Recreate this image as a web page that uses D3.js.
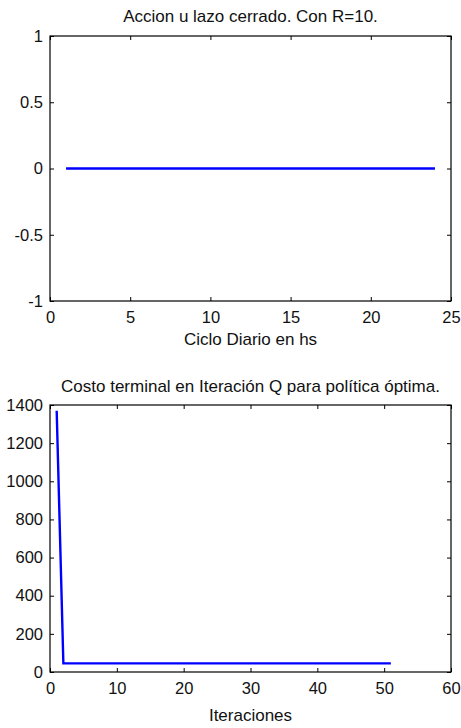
<!DOCTYPE html>
<html>
<head>
<meta charset="utf-8">
<script src="https://cdn.jsdelivr.net/npm/d3@7"></script>
<style>
  body { margin: 0; background: #fff; }
  text { font-family: "Liberation Sans", Arial, sans-serif; fill: #111; }
</style>
</head>
<body>
<script>
// chart 1: accion u, 24 hours
var horas = [1,2,3,4,5,6,7,8,9,10,11,12,13,14,15,16,17,18,19,20,21,22,23,24];
var accion = [0,0,0,0,0,0,0,0,0,0,0,0,0,0,0,0,0,0,0,0,0,0,0,0];
var xTicks1 = [0,5,10,15,20,25];
var yTicks1 = [-1,-0.5,0,0.5,1];

// chart 2: costo terminal per iteration
var iter = [1,2,3,4,5,6,7,8,9,10,11,12,13,14,15,16,17,18,19,20,21,22,23,24,25,26,27,28,29,30,31,32,33,34,35,36,37,38,39,40,41,42,43,44,45,46,47,48,49,50,51];
var costo = [1370,45,45,45,45,45,45,45,45,45,45,45,45,45,45,45,45,45,45,45,45,45,45,45,45,45,45,45,45,45,45,45,45,45,45,45,45,45,45,45,45,45,45,45,45,45,45,45,45,45,45];
var xTicks2 = [0,10,20,30,40,50,60];
var yTicks2 = [0,200,400,600,800,1000,1200,1400];

var svg = d3.select('body').append('svg').attr('width', 461).attr('height', 728);

function panel(opt) {
    var x = d3.scaleLinear().domain(opt.xd).range([opt.left, opt.right]);
    var y = d3.scaleLinear().domain(opt.yd).range([opt.bottom, opt.top]);
    var g = svg.append('g');
    var fmt = function(d){ return String(d); };

    // box
    g.append('rect')
        .attr('x', opt.left).attr('y', opt.top)
        .attr('width', opt.right - opt.left).attr('height', opt.bottom - opt.top)
        .attr('fill', 'none').attr('stroke', '#000').attr('stroke-width', 1.2);

    // axes with inward ticks
    var ax = [
        [d3.axisBottom(x).tickValues(opt.xt).tickSize(-4).tickPadding(10).tickFormat(fmt), 'translate(0,' + opt.bottom + ')'],
        [d3.axisTop(x).tickValues(opt.xt).tickSize(-4).tickFormat(''), 'translate(0,' + opt.top + ')'],
        [d3.axisLeft(y).tickValues(opt.yt).tickSize(-4).tickPadding(7).tickFormat(fmt), 'translate(' + opt.left + ',0)'],
        [d3.axisRight(y).tickValues(opt.yt).tickSize(-4).tickFormat(''), 'translate(' + opt.right + ',0)']
    ];
    ax.forEach(function(a){
        var ag = g.append('g').attr('transform', a[1]).call(a[0]);
        ag.select('.domain').remove();
        ag.selectAll('line').attr('stroke', '#000');
        ag.selectAll('text').style('font-size', '16.5px').attr('fill', '#111');
    });

    var line = d3.line().x(function(d){ return x(d[0]); }).y(function(d){ return y(d[1]); });
    g.append('path')
        .datum(d3.zip(opt.xs, opt.ys))
        .attr('d', line)
        .attr('fill', 'none').attr('stroke', '#0000ff').attr('stroke-width', 2.4);

    g.append('text').attr('x', (opt.left + opt.right) / 2).attr('y', opt.titleY)
        .attr('text-anchor', 'middle').style('font-size', '17px').text(opt.title);
    g.append('text').attr('x', (opt.left + opt.right) / 2).attr('y', opt.xlabY)
        .attr('text-anchor', 'middle').style('font-size', '17px').text(opt.xlab);
}

panel({
    xd: [0, 25], yd: [-1, 1], xt: xTicks1, yt: yTicks1,
    left: 50, right: 451, top: 36, bottom: 301,
    xs: horas, ys: accion,
    title: 'Accion u lazo cerrado. Con R=10.', titleY: 22,
    xlab: 'Ciclo Diario en hs', xlabY: 345
});

panel({
    xd: [0, 60], yd: [0, 1400], xt: xTicks2, yt: yTicks2,
    left: 50, right: 451, top: 405, bottom: 672,
    xs: iter, ys: costo,
    title: 'Costo terminal en Iteración Q para política óptima.', titleY: 392,
    xlab: 'Iteraciones', xlabY: 721
});
</script>
</body>
</html>
